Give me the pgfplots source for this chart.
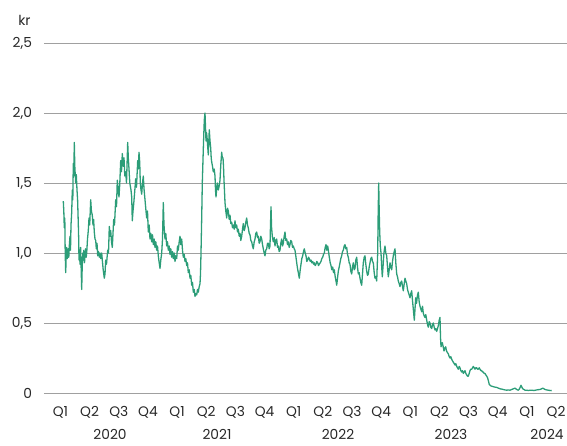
\documentclass[border=0pt]{standalone}
\usepackage{pgfplots}
\pgfplotsset{compat=1.18}
\usepackage{fontspec}
\setmainfont{Poppins}
\definecolor{linec}{RGB}{44,157,120}
\definecolor{gridc}{RGB}{160,160,160}
\definecolor{txt}{RGB}{40,40,40}
\begin{document}
\begin{tikzpicture}
\useasboundingbox (-44pt,-52pt) rectangle (523pt,393pt);
\begin{axis}[
  at={(0pt,0pt)}, anchor=south west,
  scale only axis, width=523pt, height=350pt,
  xmin=-18, xmax=505, ymin=0, ymax=2.5,
  axis line style={draw=none},
  ytick={0,0.5,1,1.5,2,2.5},
  yticklabels={0,{0,5},{1,0},{1,5},{2,0},{2,5}},
  ymajorgrids, grid style={gridc, line width=0.8pt},
  major tick length=0,
  xtick={-1.5,27.65,56.8,85.95,115.1,144.25,173.4,202.55,231.7,260.85,290,319.15,348.3,377.45,406.6,435.75,464.9,494.05},
  xticklabels={Q1,Q2,Q3,Q4,Q1,Q2,Q3,Q4,Q1,Q2,Q3,Q4,Q1,Q2,Q3,Q4,Q1,Q2},
  tick label style={font=\fontsize{13.8}{15}\selectfont, text=txt},
  yticklabel style={xshift=-8.5pt},
  xticklabel style={yshift=-10pt},
  clip=false,
]
\addplot[color=linec, line width=1.3pt, line join=round] coordinates {
(1.3,1.37)(1.8,1.30)(2.3,1.18)(2.8,1.25)(3.2,1.00)(3.7,0.86)(4.2,0.98)(4.7,1.04)(5.3,0.96)(6.3,1.03)(6.8,0.97)(7.4,1.06)(8.0,1.12)(8.5,1.02)(9.0,1.20)(9.7,1.29)(10.3,1.45)(10.8,1.38)(11.3,1.64)(11.8,1.55)(12.3,1.79)(12.8,1.62)(13.7,1.50)(14.3,1.56)(15.0,1.45)(15.6,1.38)(16.3,1.21)(16.7,1.10)(17.0,0.95)(17.5,1.02)(18.0,0.92)(18.6,1.04)(19.2,0.88)(19.7,0.74)(20.2,0.90)(20.8,1.00)(21.3,0.95)(21.8,1.02)(22.5,0.93)(23.0,0.98)(23.6,1.03)(24.2,0.97)(24.7,1.00)(25.5,1.10)(26.3,1.16)(27.0,1.25)(27.7,1.20)(28.7,1.38)(29.4,1.30)(30.3,1.27)(31.0,1.20)(31.6,1.24)(32.3,1.15)(33.0,1.10)(33.7,1.09)(34.3,1.03)(35.0,1.07)(35.7,0.98)(36.5,1.01)(37.3,0.97)(38.0,1.00)(38.8,0.96)(39.7,1.00)(40.3,0.95)(41.2,0.88)(42.3,0.82)(43.0,0.85)(43.7,0.95)(44.5,0.92)(45.7,1.02)(46.5,1.00)(47.3,1.19)(48.0,1.12)(48.7,1.16)(49.5,1.08)(50.3,1.04)(51.0,1.14)(51.7,1.24)(52.5,1.20)(53.7,1.38)(54.5,1.33)(55.3,1.52)(56.2,1.45)(57.0,1.40)(57.8,1.50)(58.7,1.66)(59.5,1.58)(60.3,1.71)(61.2,1.62)(62.0,1.68)(62.8,1.55)(63.7,1.58)(64.5,1.50)(65.7,1.79)(66.3,1.68)(67.0,1.60)(67.8,1.50)(69.0,1.45)(69.7,1.40)(70.3,1.23)(71.0,1.30)(71.7,1.35)(72.5,1.42)(73.7,1.53)(74.5,1.47)(75.7,1.66)(76.3,1.60)(77.0,1.72)(77.7,1.65)(78.3,1.50)(79.0,1.45)(79.7,1.42)(80.5,1.50)(81.3,1.55)(82.0,1.46)
(83.0,1.38)(84.0,1.30)(84.7,1.25)(85.5,1.30)(86.3,1.15)(87.2,1.20)(88.0,1.10)(88.8,1.14)(89.7,1.08)(90.5,1.13)(91.3,1.06)(92.2,1.10)(93.0,1.04)(93.8,1.08)(94.7,1.02)(95.5,1.05)(96.3,0.98)(97.2,0.93)(98.0,0.89)(98.8,0.95)(99.7,1.00)(100.5,1.10)(101.3,1.36)(102.0,1.20)(103.0,1.10)(103.8,1.14)(104.7,1.05)(105.5,1.08)(106.3,1.02)(107.2,1.05)(108.0,0.99)(108.8,1.03)(109.7,0.97)(110.5,1.01)(111.3,0.96)(112.2,1.00)(113.0,0.94)(113.8,0.98)(114.7,0.96)(115.5,1.05)(116.3,1.02)(117.2,1.08)(118.0,1.12)(118.8,1.06)(119.7,1.10)(120.5,1.02)(121.3,0.97)(122.2,0.99)(123.0,0.94)(123.8,0.96)(124.7,0.91)(125.5,0.93)(126.3,0.86)(127.2,0.88)(128.0,0.82)(128.8,0.84)(129.7,0.77)(130.5,0.79)(131.3,0.72)(132.2,0.74)(133.0,0.69)(133.8,0.71)(134.7,0.70)(135.5,0.74)(136.3,0.72)(137.2,0.76)(138.0,0.78)(138.5,0.85)(139.0,1.00)(139.7,1.25)(140.3,1.50)(140.8,1.62)(141.3,1.74)(141.8,1.85)(142.3,1.95)(143.0,2.00)(143.5,1.90)(144.0,1.80)(144.5,1.86)(145.0,1.83)(145.7,1.76)(146.3,1.70)(146.8,1.80)(147.3,1.88)(148.0,1.80)(148.7,1.75)(149.2,1.68)(149.7,1.65)(150.5,1.62)(151.3,1.58)(152.2,1.60)(153.0,1.55)(153.5,1.45)(154.0,1.40)(154.7,1.46)(155.3,1.50)(156.3,1.45)(157.2,1.48)(158.0,1.52)(158.8,1.63)(159.7,1.72)(160.3,1.68)(161.0,1.68)(161.5,1.62)(162.0,1.52)(162.5,1.44)(163.0,1.36)(163.8,1.30)(164.7,1.25)(165.5,1.32)(166.3,1.30)(167.2,1.24)(168.0,1.27)(168.8,1.21)(169.7,1.22)(170.5,1.18)(171.3,1.20)(172.2,1.17)
(173.0,1.23)(173.8,1.18)(174.7,1.20)(175.5,1.15)(176.3,1.17)(177.2,1.12)(178.0,1.14)(178.8,1.09)(179.7,1.12)(180.5,1.17)(181.3,1.21)(182.2,1.16)(183.0,1.18)(183.8,1.22)(184.7,1.25)(185.5,1.20)(186.3,1.18)(187.2,1.14)(188.0,1.13)(188.8,1.09)(189.7,1.08)(190.5,1.05)(191.3,1.03)(192.2,1.08)(193.0,1.10)(193.8,1.14)(194.7,1.15)(195.5,1.11)(196.3,1.12)(197.2,1.07)(198.0,1.08)(198.8,1.12)(199.7,1.10)(200.5,1.06)(201.3,1.03)(202.2,1.00)(203.0,0.98)(203.8,1.02)(204.7,1.03)(205.5,1.07)(206.3,1.07)(207.2,1.03)(208.0,1.05)(208.5,1.20)(209.0,1.33)(209.6,1.18)(210.3,1.12)(211.3,1.08)(212.2,1.11)(213.0,1.05)(213.8,1.09)(214.7,1.10)(215.5,1.04)(216.3,1.05)(217.2,1.01)(218.0,1.02)(218.8,1.07)(219.7,1.10)(220.5,1.05)(221.3,1.07)(222.2,1.12)(223.0,1.15)(223.8,1.09)(224.7,1.10)(225.5,1.06)(226.3,1.08)(227.2,1.04)(228.0,1.06)(228.8,1.09)(229.7,1.08)(230.5,1.04)(231.3,1.05)(232.2,1.03)(233.0,1.02)(233.8,0.98)(234.7,0.93)(235.5,0.89)(236.3,0.86)(237.3,0.82)(238.2,0.88)(239.0,0.92)(239.8,0.96)(240.7,0.98)(241.5,1.01)(242.3,1.03)(243.2,1.00)(244.0,0.98)(244.8,0.94)(245.7,0.95)(246.5,0.97)(247.3,0.96)(248.2,0.94)(249.0,0.95)(249.8,0.93)(250.7,0.94)(251.5,0.92)(252.3,0.93)(253.2,0.91)(254.0,0.92)(254.8,0.94)(255.7,0.93)(256.5,0.91)(257.3,0.92)(258.2,0.93)(259.0,0.94)(259.8,0.96)(260.7,0.97)(261.5,0.99)(262.3,1.00)
(263.2,1.04)(264.0,1.06)(264.8,1.02)(265.7,1.05)(266.5,1.01)(267.3,0.97)(268.2,0.93)(269.0,0.91)(269.8,0.88)(270.7,0.90)(271.5,0.86)(272.3,0.88)(273.2,0.83)(274.0,0.80)(274.7,0.77)(275.5,0.82)(276.3,0.87)(277.2,0.90)(278.0,0.93)(278.8,0.96)(279.7,0.98)(280.5,1.01)(281.3,1.02)(282.2,1.05)(283.0,1.06)(283.8,1.03)(284.7,1.04)(285.5,0.99)(286.3,0.97)(287.2,0.93)(288.0,0.92)(288.8,0.87)(289.7,0.85)(290.5,0.90)(291.3,0.93)(292.2,0.88)(293.0,0.89)(293.8,0.95)(294.7,0.97)(295.5,0.90)(296.3,0.85)(297.2,0.86)(298.0,0.82)(298.8,0.79)(299.7,0.77)(300.5,0.85)(301.3,0.93)(302.2,0.97)(303.0,0.98)(303.8,0.92)(304.7,0.87)(305.5,0.84)(306.3,0.85)(307.2,0.90)(308.0,0.93)(308.8,0.96)(309.7,0.97)(310.5,0.94)(311.3,0.93)(312.2,0.86)(313.0,0.82)(313.8,0.83)(314.7,0.80)(315.2,0.90)(315.7,1.00)(316.2,1.30)(316.7,1.50)(317.2,1.30)(317.7,1.15)(318.3,1.05)(319.0,1.00)(319.7,0.90)(320.3,0.83)(321.0,0.90)(321.7,0.98)(322.3,1.02)(323.0,1.05)(323.8,1.00)(324.7,0.98)(325.5,0.90)(326.3,0.83)(327.2,0.88)(328.0,0.93)(328.8,0.90)(329.7,0.88)(330.5,0.94)(331.3,0.98)(332.2,1.01)(333.0,1.03)(333.8,0.93)(334.7,0.85)(335.5,0.83)(336.3,0.80)(337.2,0.78)(338.0,0.76)(338.8,0.79)(339.7,0.80)(340.5,0.76)(341.3,0.73)(342.2,0.78)(343.0,0.82)(343.8,0.80)(344.7,0.78)(345.5,0.74)(346.3,0.72)(347.2,0.70)(348.0,0.68)(348.8,0.71)(349.7,0.73)(350.5,0.66)(351.3,0.60)(352.3,0.52)
(353.0,0.60)(353.7,0.68)(354.5,0.64)(355.5,0.70)(356.3,0.72)(357.2,0.65)(358.0,0.62)(358.8,0.60)(359.7,0.58)(360.5,0.62)(361.3,0.57)(362.2,0.55)(363.0,0.54)(363.8,0.56)(364.7,0.52)(365.5,0.49)(366.3,0.47)(367.2,0.51)(368.0,0.50)(368.8,0.47)(369.7,0.46)(370.5,0.49)(371.3,0.50)(372.2,0.47)(373.0,0.45)(373.8,0.46)(374.7,0.44)(375.5,0.46)(376.3,0.48)(377.2,0.52)(378.0,0.54)(378.5,0.40)(379.0,0.33)(379.7,0.35)(380.3,0.36)(381.2,0.33)(382.0,0.30)(382.8,0.32)(383.7,0.33)(384.5,0.30)(385.3,0.29)(386.3,0.28)(387.2,0.26)(388.0,0.25)(388.8,0.26)(389.7,0.24)(390.5,0.23)(391.3,0.22)(392.2,0.21)(393.0,0.20)(393.8,0.21)(394.7,0.19)(395.5,0.18)(396.3,0.17)(397.2,0.19)(398.0,0.18)(398.8,0.16)(399.7,0.15)(400.5,0.16)(401.3,0.14)(402.2,0.15)(403.0,0.16)(403.8,0.14)(404.7,0.13)(405.5,0.12)(406.3,0.12)(407.2,0.14)(408.0,0.16)(408.8,0.17)(409.7,0.17)(410.5,0.18)(411.3,0.19)(412.2,0.18)(413.0,0.17)(413.8,0.18)(414.7,0.18)(415.5,0.17)(416.3,0.17)(417.2,0.18)(418.0,0.17)(418.8,0.16)(419.7,0.16)(420.5,0.15)(421.3,0.15)(422.2,0.14)(423.0,0.14)(423.8,0.13)(424.7,0.12)(425.5,0.11)(426.3,0.09)(427.3,0.06)
(428.3,0.055)(429.0,0.05)(430.2,0.048)(431.3,0.045)(433.0,0.042)(434.7,0.04)(436.3,0.035)(438.0,0.03)(439.7,0.028)(441.3,0.025)(443.0,0.022)(444.7,0.02)(446.3,0.022)(448.0,0.02)(449.7,0.025)(451.3,0.03)(453.0,0.035)(454.7,0.025)(456.3,0.02)(457.5,0.03)(459.0,0.055)(460.0,0.04)(460.7,0.03)(462.0,0.025)(463.0,0.02)(465.0,0.02)(466.3,0.018)(468.0,0.02)(469.7,0.02)(472.0,0.018)(474.7,0.022)(476.5,0.024)(478.0,0.025)(479.5,0.03)(480.7,0.035)(482.0,0.03)(483.0,0.025)(484.7,0.022)(486.3,0.02)(488.0,0.018)(489.7,0.017)
};
\node[font=\fontsize{13.8}{15}\selectfont, text=txt] at (rel axis cs:0,1) [xshift=-19.5pt, yshift=23pt] {kr};
\node[font=\fontsize{13.8}{15}\selectfont, text=txt, inner sep=0pt] at (axis cs:48,0) [yshift=-41pt] {2020};
\node[font=\fontsize{13.8}{15}\selectfont, text=txt, inner sep=0pt] at (axis cs:155,0) [yshift=-41pt] {2021};
\node[font=\fontsize{13.8}{15}\selectfont, text=txt, inner sep=0pt] at (axis cs:276,0) [yshift=-41pt] {2022};
\node[font=\fontsize{13.8}{15}\selectfont, text=txt, inner sep=0pt] at (axis cs:389,0) [yshift=-41pt] {2023};
\node[font=\fontsize{13.8}{15}\selectfont, text=txt, inner sep=0pt] at (axis cs:485,0) [yshift=-41pt] {2024};
\end{axis}
\end{tikzpicture}
\end{document}
